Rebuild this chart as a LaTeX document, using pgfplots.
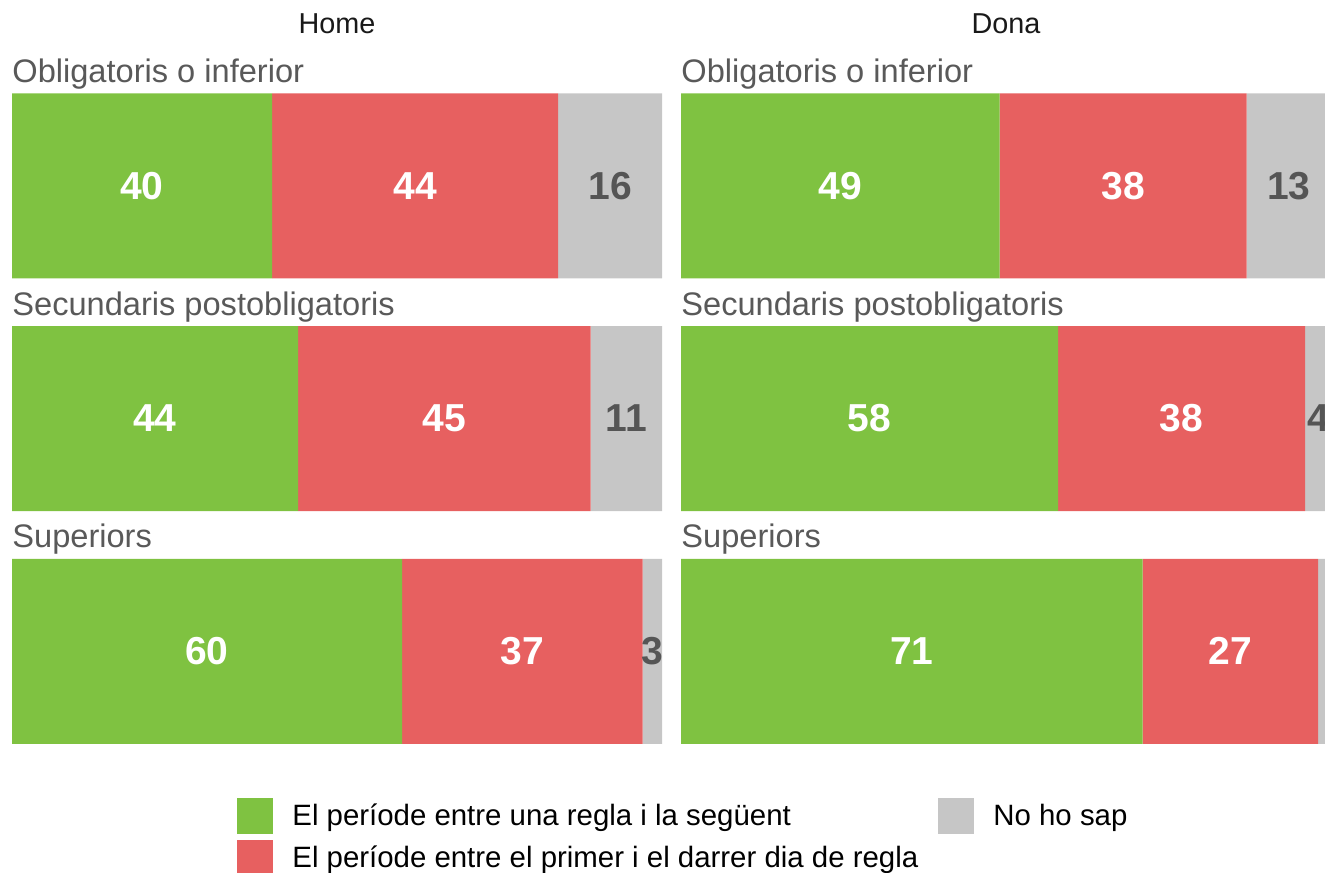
\documentclass[border=0pt]{standalone}
\usepackage{fontspec}
\setmainfont{Liberation Sans}
\usepackage{pgfplots}
\pgfplotsset{compat=1.18}

\definecolor{cgreen}{RGB}{127,194,65}
\definecolor{cred}{RGB}{231,96,96}
\definecolor{cgray}{RGB}{198,198,198}
\definecolor{clab}{RGB}{85,85,85}
\definecolor{csub}{RGB}{89,89,89}

\tikzset{
  sub/.style={anchor=base west, inner sep=0pt, text=csub, yshift=5.5pt,
    font=\fontsize{16.3}{18}\selectfont},
}

% 1px of the reference = 0.5pt
\pgfplotsset{
  panel/.style={
    xbar stacked, scale only axis, width=325pt, height=325.5pt,
    xmin=0, xmax=100, ymin=-0.3985, ymax=2.3985, y dir=reverse,
    bar width=92.5pt, axis lines=none, xtick=\empty, ytick=\empty,
    clip=false, anchor=north west,
    title style={at={(0.5,1)}, anchor=base, yshift=24pt,
      font=\fontsize{14.4}{16}\selectfont, text=black!90},
    point meta=explicit symbolic,
    nodes near coords,
    every node near coord/.append style={anchor=center, inner sep=0pt,
      font=\bfseries\fontsize{19.5}{20}\selectfont},
    legend image code/.code={\fill[#1] (0pt,-9pt) rectangle (18pt,9pt);},
    legend style={draw=none, fill=none, inner sep=0pt, anchor=north west,
      row sep=3pt, column sep=9.5pt, font=\fontsize{14.7}{16}\selectfont,
      nodes={inner sep=0pt}},
    legend cell align=left,
  },
}

\begin{document}
\begin{tikzpicture}
\useasboundingbox (0,0) rectangle (662.5pt,-436pt);
\clip (0,0) rectangle (662.5pt,-436pt);

% Home
\begin{axis}[panel, at={(6pt,-46.5pt)}, title={Home},
  legend style={at={(rel axis cs:0.34615,-0.0830)}}]
\addplot[fill=cgreen, draw=none, every node near coord/.append style={text=white}]
  coordinates {(40,0) [40] (44,1) [44] (60,2) [60]};
\addplot[fill=cred, draw=none, every node near coord/.append style={text=white}]
  coordinates {(44,0) [44] (45,1) [45] (37,2) [37]};
\addplot[fill=cgray, draw=none, every node near coord/.append style={text=clab}]
  coordinates {(16,0) [16] (11,1) [11] (3,2) [3]};
\legend{El període entre una regla i la següent, El període entre el primer i el darrer dia de regla}
\node[sub] at (axis cs:0,-0.3974) {Obligatoris o inferior};
\node[sub] at (axis cs:0,0.6026) {Secundaris postobligatoris};
\node[sub] at (axis cs:0,1.6026) {Superiors};
\end{axis}

% Dona
\begin{axis}[panel, at={(340.5pt,-46.5pt)}, title={Dona},
  legend style={at={(rel axis cs:0.39538,-0.0830)}}]
\addlegendimage{fill=cgray, draw=none}
\addplot[fill=cgreen, draw=none, every node near coord/.append style={text=white}]
  coordinates {(49,0) [49] (58,1) [58] (71,2) [71]};
\addplot[fill=cred, draw=none, every node near coord/.append style={text=white}]
  coordinates {(38,0) [38] (38,1) [38] (27,2) [27]};
\addplot[fill=cgray, draw=none, every node near coord/.append style={text=clab}]
  coordinates {(13,0) [13] (4,1) [4] (2,2) [{}]};
\legend{No ho sap}
\node[sub] at (axis cs:0,-0.3974) {Obligatoris o inferior};
\node[sub] at (axis cs:0,0.6026) {Secundaris postobligatoris};
\node[sub] at (axis cs:0,1.6026) {Superiors};
\end{axis}
\end{tikzpicture}
\end{document}
